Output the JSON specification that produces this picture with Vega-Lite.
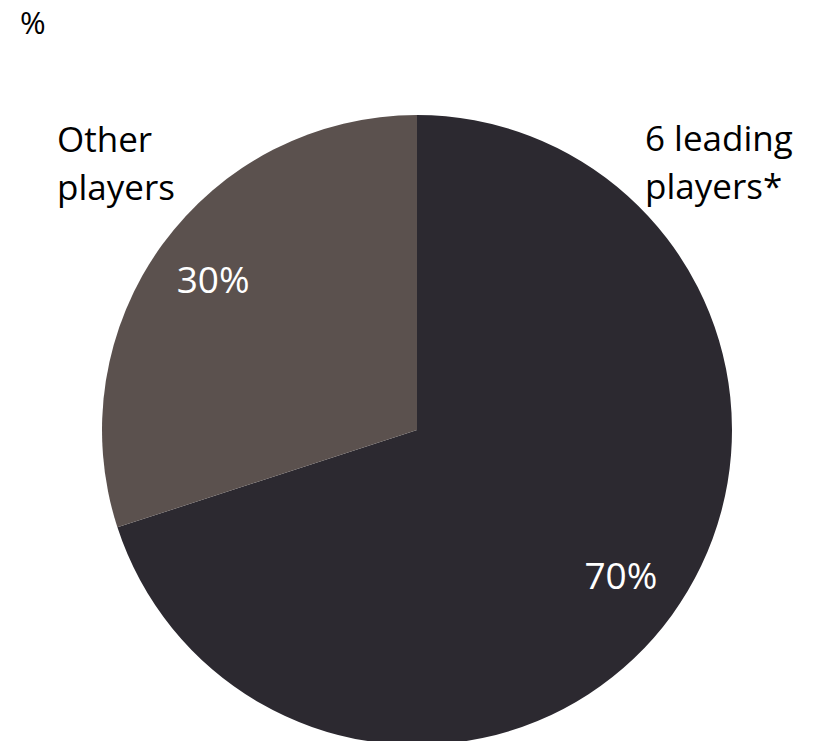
{
  "$schema": "https://vega.github.io/schema/vega-lite/v6.json",
  "width": 630,
  "height": 630,
  "autosize": {"type": "none"},
  "padding": {"left": 102, "top": 115, "right": 85, "bottom": 0},
  "background": "white",
  "config": {"view": {"stroke": null}, "font": "Open Sans"},
  "layer": [
    {
      "data": {
        "values": [
          {"group": "6 leading players*", "share": 0.7, "rank": 1},
          {"group": "Other players", "share": 0.3, "rank": 2}
        ]
      },
      "encoding": {
        "theta": {"field": "share", "type": "quantitative", "stack": true},
        "order": {"field": "rank", "type": "quantitative"},
        "color": {
          "field": "group",
          "type": "nominal",
          "scale": {"domain": ["6 leading players*", "Other players"], "range": ["#2c2930", "#5b514e"]},
          "legend": null
        }
      },
      "layer": [
        {"mark": {"type": "arc", "radius": 315}},
        {
          "mark": {"type": "text", "radius": 252, "align": "center", "baseline": "middle", "fontSize": 37, "font": "Open Sans"},
          "encoding": {
            "text": {"field": "share", "type": "quantitative", "format": ".0%"},
            "color": {"value": "white"}
          }
        }
      ]
    },
    {
      "data": {
        "values": [
          {"label": "%", "angle": 314.93, "r": 560.7, "size": 31},
          {"label": "Other\nplayers", "angle": 307.67, "r": 454.8, "size": 35},
          {"label": "6 leading\nplayers*", "angle": 39.26, "r": 360.3, "size": 35}
        ]
      },
      "mark": {"type": "text", "align": "left", "baseline": "alphabetic", "lineBreak": "\n", "lineHeight": 48, "color": "black", "font": "Open Sans"},
      "encoding": {
        "theta": {"field": "angle", "type": "quantitative", "scale": {"domain": [0, 360], "range": [0, 6.283185307179586]}},
        "radius": {"field": "r", "type": "quantitative", "scale": {"type": "linear", "domain": [0, 600], "range": [0, 600], "zero": true}},
        "text": {"field": "label"},
        "size": {"field": "size", "type": "quantitative", "scale": null}
      }
    }
  ],
  "resolve": {"scale": {"theta": "independent", "radius": "independent"}}
}
